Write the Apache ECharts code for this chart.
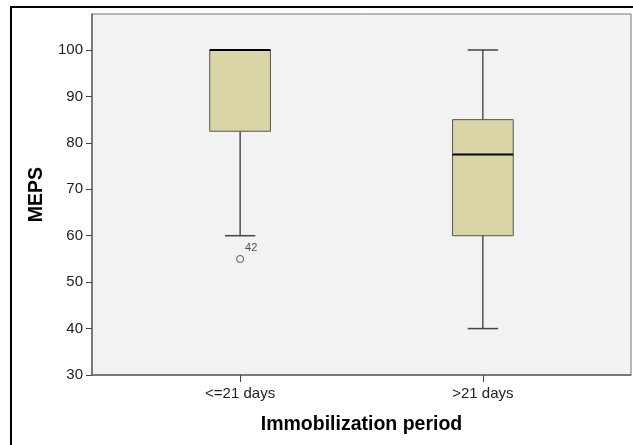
<!DOCTYPE html>
<html>
<head>
<meta charset="utf-8">
<script src="https://cdn.jsdelivr.net/npm/echarts@6/dist/echarts.min.js"></script>
<style>
  html, body { margin: 0; padding: 0; background: #fff; }
  #main { width: 633px; height: 445px; }
</style>
</head>
<body>
<div id="main"></div>
<script>
// groups on the x axis (placed at 1 and 2)
const categories = ["<=21 days", ">21 days"];
const positions = [1, 2];
// [min, Q1, median, Q3, max] per group
const lowWhisker = [60, 40];
const q1 = [82.5, 60];
const median = [100, 77.5];
const q3 = [100, 85];
const highWhisker = [100, 100];
// outliers: group position, value, case id
const outlierPos = [1];
const outlierVal = [55];
const outlierId = ["42"];
const yTicks = [30, 40, 50, 60, 70, 80, 90, 100];

const font = "Liberation Sans, Arial, sans-serif";

const boxData = positions.map((p, i) => [p, lowWhisker[i], q1[i], median[i], q3[i], highWhisker[i]]);
const outlierData = outlierPos.map((p, i) => ({ value: [p, outlierVal[i]], name: outlierId[i] }));

const chart = echarts.init(document.getElementById("main"));

function renderBox(params, api) {
  const x = api.value(0);
  const lo = api.coord([x, api.value(1)]);
  const b1 = api.coord([x, api.value(2)]);
  const md = api.coord([x, api.value(3)]);
  const b3 = api.coord([x, api.value(4)]);
  const hi = api.coord([x, api.value(5)]);
  const boxW = api.size([0.25, 0])[0];
  const capW = boxW / 2;
  const cx = lo[0];
  const line = (x1, y1, x2, y2, stroke, w) => ({
    type: "line",
    shape: { x1: x1, y1: y1, x2: x2, y2: y2 },
    style: { stroke: stroke, lineWidth: w }
  });
  return {
    type: "group",
    children: [
      line(cx, hi[1], cx, b3[1], "#000", 1),
      line(cx, b1[1], cx, lo[1], "#000", 1),
      line(cx - capW / 2, hi[1], cx + capW / 2, hi[1], "#444", 1.5),
      line(cx - capW / 2, lo[1], cx + capW / 2, lo[1], "#444", 1.5),
      {
        type: "rect",
        shape: { x: cx - boxW / 2, y: b3[1], width: boxW, height: b1[1] - b3[1] },
        style: { fill: "#d9d5a7", stroke: "#555", lineWidth: 1 }
      },
      line(cx - boxW / 2, md[1], cx + boxW / 2, md[1], "#000", 2)
    ]
  };
}

chart.setOption({
  animation: false,
  graphic: [{
    type: "rect",
    shape: { x: 11, y: 7, width: 660, height: 480 },
    style: { fill: null, stroke: "#000", lineWidth: 2 },
    z: 10
  }],
  grid: {
    left: 92, right: 2, top: 14, bottom: 70,
    show: true,
    backgroundColor: "#f2f2f2",
    borderColor: "#777",
    borderWidth: 1
  },
  xAxis: {
    type: "value",
    min: 0.39,
    max: 2.61,
    name: "Immobilization period",
    nameLocation: "middle",
    nameGap: 40,
    nameTextStyle: { fontFamily: font, fontSize: 19.5, fontWeight: "bold", color: "#000" },
    splitLine: { show: false },
    axisLine: { show: true, lineStyle: { color: "#666", width: 1.5 } },
    axisTick: { show: true, length: 7, lineStyle: { color: "#444" }, customValues: positions },
    axisLabel: {
      customValues: positions,
      margin: 11,
      fontFamily: font,
      fontSize: 15,
      color: "#222",
      formatter: function (v) { return categories[positions.indexOf(v)] || ""; }
    }
  },
  yAxis: {
    type: "value",
    min: 30,
    max: 107.75,
    name: "MEPS",
    nameLocation: "middle",
    nameRotate: 90,
    nameGap: 45,
    nameTextStyle: { fontFamily: font, fontSize: 19.5, fontWeight: "bold", color: "#000" },
    splitLine: { show: false },
    axisLine: { show: true, lineStyle: { color: "#666", width: 1.5 } },
    axisTick: { show: true, length: 6, lineStyle: { color: "#444" }, customValues: yTicks },
    axisLabel: {
      customValues: yTicks,
      margin: 9,
      fontFamily: font,
      fontSize: 15,
      color: "#222"
    }
  },
  series: [
    {
      type: "custom",
      renderItem: renderBox,
      encode: { x: 0, y: [1, 2, 3, 4, 5] },
      data: boxData,
      z: 2
    },
    {
      type: "scatter",
      data: outlierData,
      symbol: "circle",
      symbolSize: 7,
      itemStyle: { color: "rgba(0,0,0,0)", borderColor: "#333", borderWidth: 1 },
      label: {
        show: true,
        position: "right",
        distance: 1,
        offset: [0, -11],
        formatter: "{b}",
        fontFamily: font,
        fontSize: 11,
        color: "#222"
      },
      z: 3
    }
  ]
});
</script>
</body>
</html>
